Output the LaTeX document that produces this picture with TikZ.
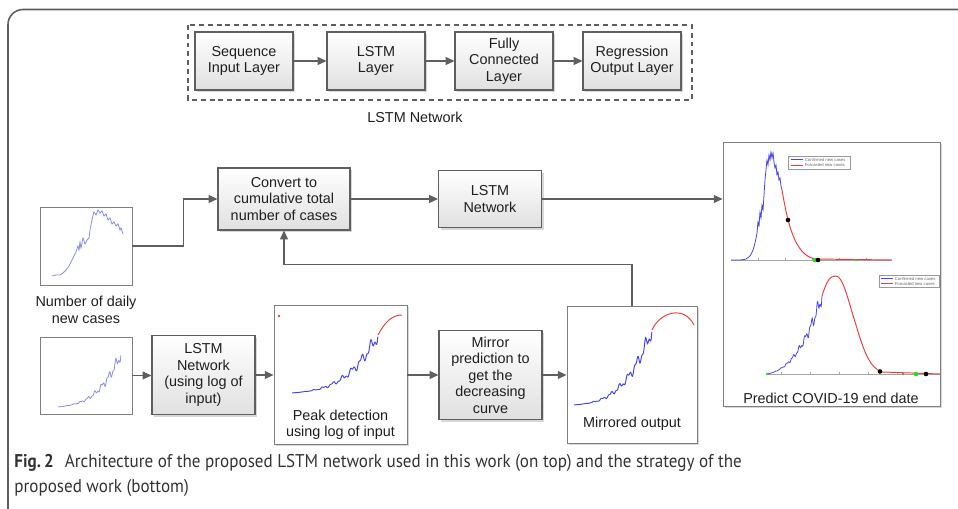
\documentclass[tikz,border=0pt]{standalone}
\usepackage{fontspec}
\setmainfont{Liberation Sans}
\newfontfamily\capfont[FakeStretch=0.925]{PT Sans}
\usetikzlibrary{arrows.meta,shadows}
\definecolor{lineg}{RGB}{95,95,95}
\definecolor{cblue}{RGB}{70,70,240}
\definecolor{lblue}{RGB}{140,140,238}
\definecolor{cred}{RGB}{240,60,60}
\definecolor{cgreen}{RGB}{40,220,40}

\begin{document}
\begin{tikzpicture}[x=0.02cm,y=-0.02cm,
    font=\fontsize{8.2}{9.4}\selectfont,text=black!88,
    blk/.style={draw=lineg,line width=0.6pt,top color=white,bottom color=black!12,
        drop shadow={shadow xshift=1.3pt,shadow yshift=-1.3pt,fill=black!30,opacity=.5},
        align=center,inner sep=1pt},
    pic/.style={draw=lineg!80,line width=0.5pt,fill=white,inner sep=0pt},
    picshadow/.style={pic,drop shadow={shadow xshift=1.3pt,shadow yshift=-1.3pt,fill=black!30,opacity=.5}},
    arr/.style={draw=lineg,line width=0.6pt,-{Triangle[length=5pt,width=4.5pt]}},
    axis/.style={black!35,line width=0.35pt},
    legend/.style={font=\fontsize{2.4}{2.8}\selectfont,text=black!60,anchor=west,inner sep=0.3pt},
    dot/.style={circle,fill=#1,inner sep=0pt,minimum size=2.6pt}]
\useasboundingbox (0,0) rectangle (958,509);

\draw[lineg,line width=0.9pt,rounded corners=0.3cm] (8,520) -- (8,9.5) -- (970,9.5);

% LSTM network layers
\draw[lineg,line width=0.6pt,dash pattern=on 2.8pt off 2.2pt] (188,25) rectangle (692,100);
\node[blk,minimum width=1.96cm,minimum height=1.16cm] (seq) at (244,61) {Sequence\\Input Layer};
\node[blk,minimum width=1.96cm,minimum height=1.16cm] (lstmlayer) at (376,61) {LSTM\\Layer};
\node[blk,minimum width=1.96cm,minimum height=1.16cm] (fc) at (504,61) {Fully\\Connected\\Layer};
\node[blk,minimum width=1.96cm,minimum height=1.16cm] (reg) at (632,61) {Regression\\Output Layer};
\draw[arr] (seq) -- (lstmlayer);
\draw[arr] (lstmlayer) -- (fc);
\draw[arr] (fc) -- (reg);
\node (netlabel) at (415,117) {LSTM Network};

% strategy
\node[pic,minimum width=1.84cm,minimum height=1.56cm] (daily) at (86,246) {};
\node[align=center] (dailylabel) at (86,310) {Number of daily\\new cases};
\node[blk,minimum width=2.64cm,minimum height=1.24cm] (conv) at (284,199) {Convert to\\cumulative total\\number of cases};
\node[blk,minimum width=2.06cm,minimum height=1.14cm] (lstm) at (490,199) {LSTM\\Network};
\node[picshadow,minimum width=4.34cm,minimum height=5.28cm] (predict) at (831.5,274) {};
\node (predictlabel) at (831,398) {Predict COVID-19 end date};

\node[pic,minimum width=1.84cm,minimum height=1.54cm] (dailylog) at (86,375.5) {};
\node[blk,minimum width=2.06cm,minimum height=1.58cm] (lstmlog) at (203.5,375) {LSTM\\Network\\(using log of\\input)};
\node[picshadow,minimum width=2.66cm,minimum height=2.78cm] (peak) at (340.5,374.5) {};
\node[align=center] (peaklabel) at (340.5,425) {Peak detection\\using log of input};
\node[blk,minimum width=2.06cm,minimum height=1.78cm] (mirror) at (490.5,375) {Mirror\\prediction to\\get the\\decreasing\\curve};
\node[picshadow,minimum width=2.6cm,minimum height=2.74cm] (mirrored) at (632,374.5) {};
\node (mirroredlabel) at (632,424) {Mirrored output};

\draw[arr] (daily.east) -- ++(51,0) |- (conv.west);
\draw[arr] (conv.east) -- (conv.east -| lstm.west);
\draw[arr] (lstm.east) -- (lstm.east -| predict.west);
\draw[arr] (dailylog.east) -- (dailylog.east -| lstmlog.west);
\draw[arr] (lstmlog.east) -- (lstmlog.east -| peak.west);
\draw[arr] (peak.east |- mirror.west) -- (mirror.west);
\draw[arr] (mirror.east) -- (mirror.east -| mirrored.west);
\draw[arr] (mirrored.north) -- ++(0,-41) -| (conv.south);

% small curves
\draw[lblue,line width=0.45pt] plot[smooth,tension=0.3] coordinates {(52,276) (56,275) (60,275) (63,273) (66,270)
    (69,266) (72,260) (74,256) (76,252) (78,246) (79,250) (80,242) (81,248) (83,238) (85,244) (87,240) (89,238)
    (90,230) (92,220) (94,212) (96,215) (98,210) (100,213) (102,211) (104,216) (106,214) (108,220) (110,218)
    (112,224) (114,222) (116,226) (118,224) (120,230) (121,228) (123,234)};
\draw[lblue,line width=0.45pt] plot[domain=0:1,samples=150]
    ({58+63*\x},{407-8*\x-45*\x*\x*\x-7*\x*\x*(0.7*sin(3240*\x)+0.4*sin(7560*\x))});

\draw[cblue,line width=0.55pt] plot[domain=0:1,samples=150]
    ({292+86*\x},{393-8*\x-50*\x*\x*\x-8*\x*\x*(0.7*sin(3240*\x)+0.4*sin(7560*\x))});
\draw[cred,line width=0.55pt] (378,335) .. controls (385,322) and (392,315) .. (402,315);
\node[dot=cred,minimum size=1.5pt] (peakmark) at (279,316) {};

\draw[cblue,line width=0.55pt] plot[domain=0:1,samples=150]
    ({574+78*\x},{405-8*\x-67*\x*\x*\x-9*\x*\x*(0.7*sin(3240*\x)+0.4*sin(7560*\x))});
\draw[cred,line width=0.55pt] (652,330) .. controls (660,312) and (684,305) .. (694,325);

% forecast plots
\draw[axis] (731,260) -- (892,260);
\foreach \t in {758,785,812,839,866} \draw[axis] (\t,260) -- (\t,258.5);
\draw[cblue,line width=0.45pt] plot[smooth,tension=0.3] coordinates {(731,260) (740,260) (746,259) (750,256)
    (753,250) (755,243) (757,233) (758,222) (759,226) (760,212) (761,218) (762,205) (763,210) (764,195) (765,180)
    (766,170) (767,160) (768,165) (769,155) (770,160) (771,152) (772,158) (773,153) (774,162) (775,168) (776,165)
    (777,175) (778,172) (779,180) (780,178) (781,186) (782,190)};
\draw[cred,line width=0.55pt] (782,190) .. controls (788,225) and (795,255) .. (815,259) -- (892,260);
\node[dot=black] (topa) at (788,220) {};
\node[dot=cgreen] (topb) at (815,260) {};
\node[dot=black] (topc) at (818,260) {};
\node[dot=cgreen,minimum size=1.6pt] (topd) at (856,260) {};
\draw[black!40,line width=0.3pt,fill=white] (788,156) rectangle (850,169);
\draw[cblue,line width=0.4pt] (791,159.5) -- (803,159.5);
\node[legend] (topconf) at (804,159.5) {Confirmed new cases};
\draw[cred,line width=0.4pt] (791,165) -- (803,165);
\node[legend] (topfore) at (804,165) {Forcasted new cases};

\draw[axis] (767,374) -- (940,374);
\foreach \t in {781,810,839,868,897,926} \draw[axis] (\t,374) -- (\t,372.5);
\draw[cblue,line width=0.45pt] plot[domain=0:1,samples=130]
    ({767+55*\x},{374-10*\x-40*\x*\x-28*\x*\x*\x-9*\x*\x*(0.7*sin(3240*\x)+0.4*sin(7560*\x))});
\draw[cred,line width=0.55pt] (822,296) .. controls (827,280) and (830,276) .. (836,276)
    .. controls (843,276) and (848,300) .. (856,325) .. controls (864,352) and (870,368) .. (882,372) -- (940,374);
\node[dot=cgreen,minimum size=1.6pt] (bota) at (767,374) {};
\node[dot=black] (botb) at (880,371.5) {};
\node[dot=black!50,minimum size=1.6pt] (botc) at (903,374) {};
\node[dot=cgreen] (botd) at (916,374) {};
\node[dot=black] (bote) at (926,374) {};
\draw[black!40,line width=0.3pt,fill=white] (879,275) rectangle (939,287);
\draw[cblue,line width=0.4pt] (881,278.5) -- (893,278.5);
\node[legend] (botconf) at (894,278.5) {Confirmed new cases};
\draw[cred,line width=0.4pt] (881,283.5) -- (893,283.5);
\node[legend] (botfore) at (894,283.5) {Forcasted new cases};

\node[anchor=north west,align=left,inner sep=0pt,text=black!80,font=\capfont\fontsize{10.5}{14.2}\selectfont] (caption) at (14,454)
    {\textbf{Fig.\,2}\hspace{0.6em}Architecture of the proposed LSTM network used in this work (on top) and the strategy of the\\proposed work (bottom)};
\end{tikzpicture}
\end{document}
